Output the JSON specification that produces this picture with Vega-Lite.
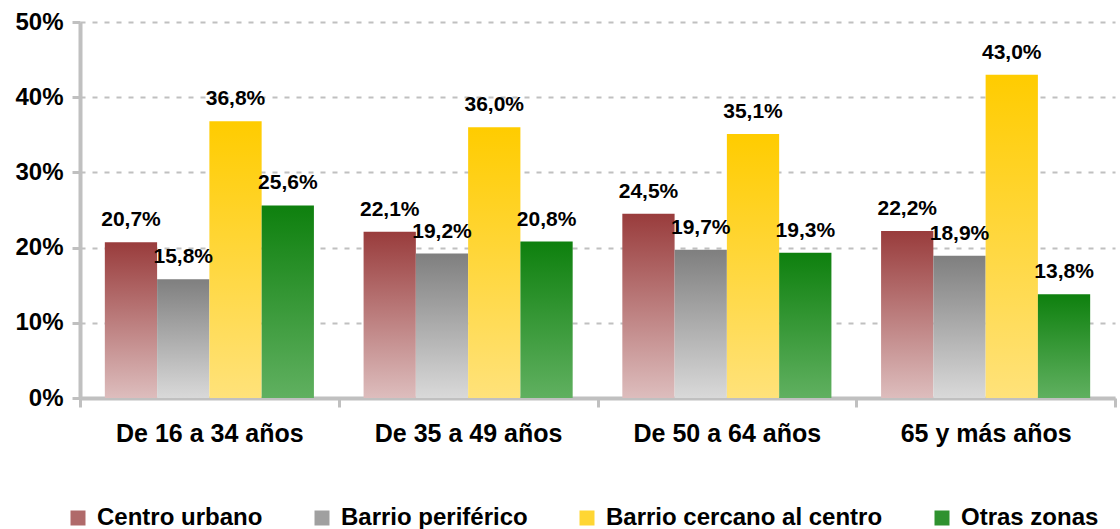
{
  "$schema": "https://vega.github.io/schema/vega-lite/v6.json",
  "width": 1035,
  "height": 376,
  "autosize": "none",
  "padding": {"left": 80, "top": 22, "right": 5, "bottom": 131},
  "config": {
    "locale": {"number": {"decimal": ",", "thousands": ".", "grouping": [3], "currency": ["", " €"], "percent": "%"}},
    "view": {"stroke": null},
    "font": "Liberation Sans"
  },
  "data": {
    "values": [
      {"grupo": "De 16 a 34 años", "zona": "Centro urbano", "v": 0.207},
      {"grupo": "De 16 a 34 años", "zona": "Barrio periférico", "v": 0.158},
      {"grupo": "De 16 a 34 años", "zona": "Barrio cercano al centro", "v": 0.368},
      {"grupo": "De 16 a 34 años", "zona": "Otras zonas", "v": 0.256},
      {"grupo": "De 35 a 49 años", "zona": "Centro urbano", "v": 0.221},
      {"grupo": "De 35 a 49 años", "zona": "Barrio periférico", "v": 0.192},
      {"grupo": "De 35 a 49 años", "zona": "Barrio cercano al centro", "v": 0.360},
      {"grupo": "De 35 a 49 años", "zona": "Otras zonas", "v": 0.208},
      {"grupo": "De 50 a 64 años", "zona": "Centro urbano", "v": 0.245},
      {"grupo": "De 50 a 64 años", "zona": "Barrio periférico", "v": 0.197},
      {"grupo": "De 50 a 64 años", "zona": "Barrio cercano al centro", "v": 0.351},
      {"grupo": "De 50 a 64 años", "zona": "Otras zonas", "v": 0.193},
      {"grupo": "65 y más años", "zona": "Centro urbano", "v": 0.222},
      {"grupo": "65 y más años", "zona": "Barrio periférico", "v": 0.189},
      {"grupo": "65 y más años", "zona": "Barrio cercano al centro", "v": 0.430},
      {"grupo": "65 y más años", "zona": "Otras zonas", "v": 0.138}
    ]
  },
  "encoding": {
    "x": {
      "field": "grupo", "type": "nominal", "sort": null,
      "scale": {"domain": ["De 16 a 34 años", "De 35 a 49 años", "De 50 a 64 años", "65 y más años"], "paddingInner": 0, "paddingOuter": 0},
      "axis": {
        "title": null, "labelAngle": 0, "labelFont": "Liberation Sans", "labelFontSize": 25, "labelFontWeight": "bold",
        "labelColor": "#000000", "domainColor": "#c0c0c0", "domainWidth": 4, "tickColor": "#c0c0c0", "tickWidth": 3,
        "tickSize": 9, "tickBand": "extent", "labelPadding": 14, "grid": false, "labelLimit": 400
      }
    },
    "xOffset": {"field": "zona", "type": "nominal", "scale": {"domain": ["Centro urbano", "Barrio periférico", "Barrio cercano al centro", "Otras zonas"], "paddingInner": 0, "paddingOuter": 0.475}},
    "y": {
      "field": "v", "type": "quantitative",
      "scale": {"domain": [0, 0.5]},
      "axis": {
        "title": null, "format": ".0%", "values": [0, 0.1, 0.2, 0.3, 0.4, 0.5],
        "labelFont": "Liberation Sans", "labelFontSize": 24, "labelFontWeight": "bold", "labelColor": "#000000",
        "domainColor": "#c0c0c0", "domainWidth": 4, "tickColor": "#c0c0c0", "tickWidth": 3, "tickSize": 8, "labelPadding": 9,
        "grid": true, "gridColor": "#c0c0c0", "gridDash": [5, 7], "gridWidth": 2
      }
    }
  },
  "layer": [
    {
      "transform": [{"filter": "datum.zona === 'Centro urbano'"}],
      "mark": {"type": "bar", "color": {"gradient": "linear", "x1": 0, "y1": 0, "x2": 0, "y2": 1, "stops": [{"offset": 0, "color": "#993c3c"}, {"offset": 1, "color": "#ddbdbd"}]}}
    },
    {
      "transform": [{"filter": "datum.zona === 'Barrio periférico'"}],
      "mark": {"type": "bar", "color": {"gradient": "linear", "x1": 0, "y1": 0, "x2": 0, "y2": 1, "stops": [{"offset": 0, "color": "#7f7f7f"}, {"offset": 1, "color": "#d9d9d9"}]}}
    },
    {
      "transform": [{"filter": "datum.zona === 'Barrio cercano al centro'"}],
      "mark": {"type": "bar", "color": {"gradient": "linear", "x1": 0, "y1": 0, "x2": 0, "y2": 1, "stops": [{"offset": 0, "color": "#ffcc00"}, {"offset": 1, "color": "#ffe27a"}]}}
    },
    {
      "transform": [{"filter": "datum.zona === 'Otras zonas'"}],
      "mark": {"type": "bar", "color": {"gradient": "linear", "x1": 0, "y1": 0, "x2": 0, "y2": 1, "stops": [{"offset": 0, "color": "#0e800e"}, {"offset": 1, "color": "#60b060"}]}}
    },
    {
      "mark": {"type": "point", "filled": true, "opacity": 0},
      "encoding": {
        "color": {
          "field": "zona", "type": "nominal",
          "scale": {
            "domain": ["Centro urbano", "Barrio periférico", "Barrio cercano al centro", "Otras zonas"],
            "range": ["#b06a6a", "#a0a0a0", "#ffd633", "#2f922f"]
          },
          "legend": {
            "title": null, "orient": "none", "legendX": -14, "legendY": 484, "direction": "horizontal",
            "labelFont": "Liberation Sans", "labelFontSize": 24, "labelFontWeight": "bold", "labelColor": "#000000", "labelLimit": 500,
            "symbolType": "square", "symbolSize": 225, "symbolStrokeWidth": 0, "symbolOpacity": 1,
            "columnPadding": 47, "labelOffset": 7
          }
        }
      }
    },
    {
      "mark": {"type": "text", "baseline": "alphabetic", "dy": -16, "font": "Liberation Sans", "fontSize": 21, "fontWeight": "bold", "color": "#000000"},
      "encoding": {
        "text": {"field": "v", "type": "quantitative", "format": ".1%"}
      }
    }
  ]
}
